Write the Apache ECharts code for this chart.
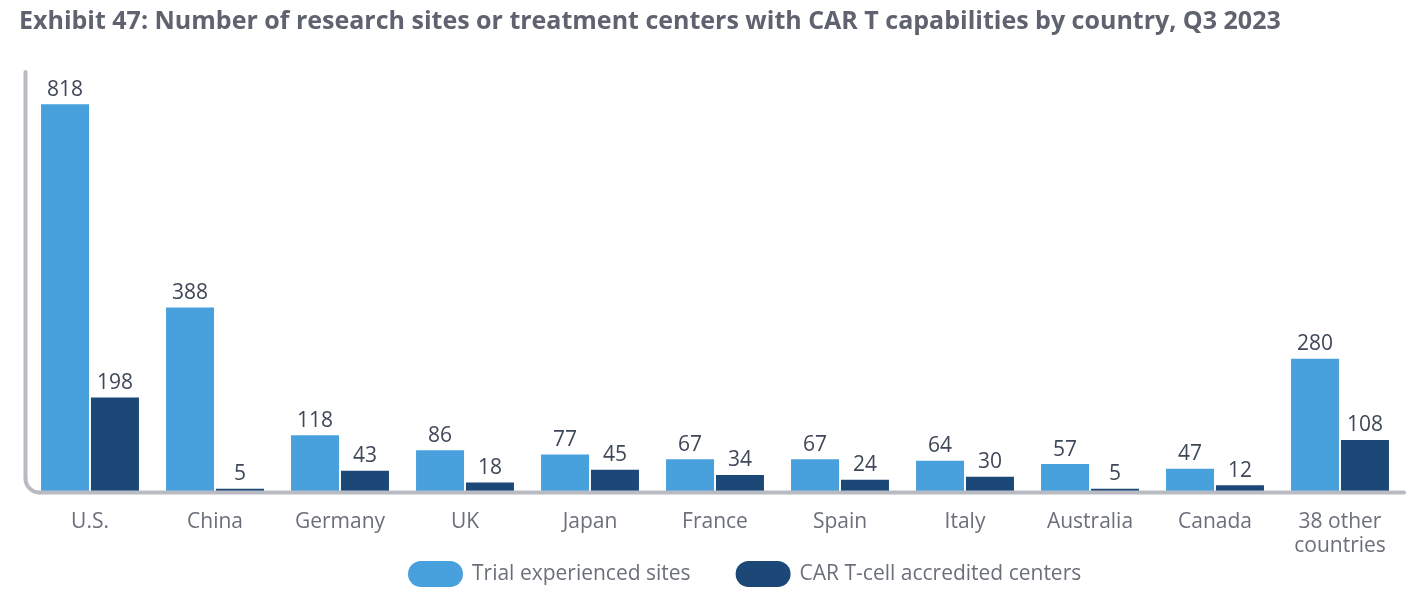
<!DOCTYPE html>
<html><head><meta charset="utf-8">
<script src="https://cdn.jsdelivr.net/npm/echarts@6/dist/echarts.min.js"></script>
<style>html,body{margin:0;padding:0;background:#fff}#c{width:1425px;height:613px}</style>
</head><body><div id="c"></div>
<script>
const categories = ['U.S.', 'China', 'Germany', 'UK', 'Japan', 'France', 'Spain', 'Italy', 'Australia', 'Canada', '38 other\ncountries'];
const trialSites = [818, 388, 118, 86, 77, 67, 67, 64, 57, 47, 280];
const accreditedCenters = [198, 5, 43, 18, 45, 34, 24, 30, 5, 12, 108];
const seriesNames = ['Trial experienced sites', 'CAR T-cell accredited centers'];

const FONT = '"Open Sans", "Noto Sans", sans-serif';
const G = {left: 27.5, right: 22.5, top: 75, bottom: 122};
const W = 1425, H = 613;
const x0 = 25.5, yb = H - G.bottom + 1.5, r = 14, xr = 1404, yt = 72;
const AX = {stroke: '#b9bbc2', lineWidth: 4, lineCap: 'round', fill: null};
const PILL = 'path://M13,0 L42,0 A13,13 0 0 1 42,26 L13,26 A13,13 0 0 1 13,0 Z';

const chart = echarts.init(document.getElementById('c'), null, {renderer: 'canvas'});
chart.setOption({
  animation: false,
  textStyle: {fontFamily: FONT},
  title: {
    text: 'Exhibit 47: Number of research sites or treatment centers with CAR T capabilities by country, Q3 2023',
    left: 14, top: 4,
    textStyle: {fontFamily: FONT, fontSize: 25, fontWeight: 'bold', color: '#5f6370'}
  },
  legend: {
    bottom: 21, left: 403,
    itemWidth: 55, itemHeight: 26, itemGap: 45,
    icon: PILL,
    textStyle: {fontFamily: FONT, fontSize: 21, color: '#6b6f7a', padding: [0, 0, 0, 4]},
    data: seriesNames
  },
  grid: {left: G.left, right: G.right, top: G.top, bottom: G.bottom, containLabel: false},
  xAxis: {
    type: 'category', data: categories,
    axisLine: {show: false}, axisTick: {show: false},
    axisLabel: {fontFamily: FONT, fontSize: 21, color: '#6b6f7a', margin: 19, lineHeight: 24, interval: 0}
  },
  yAxis: {
    type: 'value', min: 0, max: 880,
    axisLine: {show: false}, axisTick: {show: false}, axisLabel: {show: false}, splitLine: {show: false}
  },
  graphic: [
    {type: 'line', silent: true, z: 10, shape: {x1: x0, y1: yt, x2: x0, y2: yb - r}, style: AX},
    {type: 'arc', silent: true, z: 10, shape: {cx: x0 + r, cy: yb - r, r: r, startAngle: Math.PI / 2, endAngle: Math.PI, clockwise: true}, style: AX},
    {type: 'line', silent: true, z: 10, shape: {x1: x0 + r, y1: yb, x2: xr, y2: yb}, style: AX}
  ],
  series: [
    {
      name: seriesNames[0], type: 'bar', data: trialSites,
      barWidth: 48, barGap: '4%',
      itemStyle: {color: '#48a1dc'},
      label: {show: true, position: 'top', distance: 4, fontFamily: FONT, fontSize: 21, color: '#3f4858'}
    },
    {
      name: seriesNames[1], type: 'bar', data: accreditedCenters,
      barWidth: 48,
      itemStyle: {color: '#1c4878'},
      label: {show: true, position: 'top', distance: 4, fontFamily: FONT, fontSize: 21, color: '#3f4858'}
    }
  ]
});
</script></body></html>
